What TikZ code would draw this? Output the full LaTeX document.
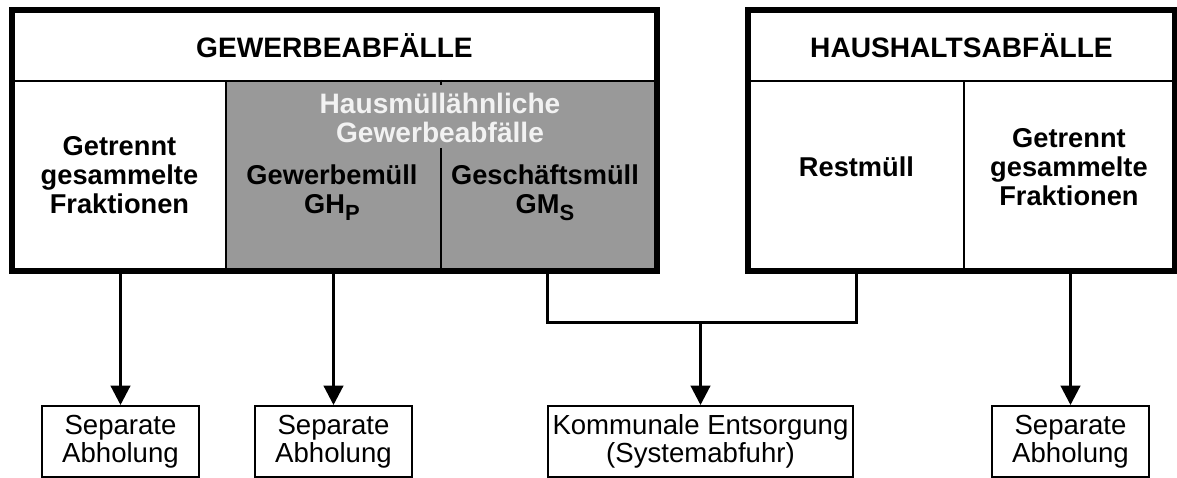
\documentclass[tikz,border=0pt]{standalone}
\usepackage{fontspec}
\setmainfont{Liberation Sans}
\usetikzlibrary{arrows.meta}
\newcommand{\tief}[1]{\raisebox{-4pt}{\fontsize{12.5}{12.5}\selectfont #1}}
\tikzset{
  dick/.style={line width=3.4pt},
  duenn/.style={line width=1.1pt},
  zelle/.style={draw, line width=1.1pt, inner sep=0pt, anchor=north west},
  kopf/.style={font=\fontsize{16}{19}\selectfont\bfseries},
  fach/.style={align=center, font=\fontsize{15.5}{16.5}\selectfont\bfseries},
  ziel/.style={draw, line width=1.1pt, inner sep=0pt, align=center, minimum height=1.42cm, font=\fontsize{15.7}{16}\selectfont},
  leitung/.style={line width=1.7pt},
  pfeil/.style={line width=1.7pt, -{Triangle[length=11pt,width=11pt]}},
}

\begin{document}
\begin{tikzpicture}
    \useasboundingbox (0,0) rectangle (23.54,9.56);
    \node[zelle, kopf, minimum width=12.86cm, minimum height=1.40cm] (gkopf) at (0.24,9.36) {GEWERBEABFÄLLE};
    \node[zelle, fach, minimum width=4.26cm, minimum height=3.78cm] (gtrenn) at (0.24,7.96) {Getrennt\\gesammelte\\Fraktionen};
    \node[zelle, fill=black!40, minimum width=8.60cm, minimum height=3.78cm] (grau) at (4.50,7.96) {};
    \node[inner sep=0pt, anchor=north west, minimum width=4.30cm, minimum height=2.42cm] (gmuell) at (4.50,6.60) {};
    \node[inner sep=0pt, anchor=north west, minimum width=4.30cm, minimum height=2.42cm] (gesch) at (8.80,6.60) {};
    \draw[duenn] (gmuell.north east) -- (gmuell.south east);
    \draw[duenn] (gmuell.east |- grau.north) -- ++(0,-0.1);
    \node[fach, text=black!5, font=\fontsize{16}{16.5}\selectfont\bfseries] (haus) at (8.80,7.20) {Hausmüllähnliche\\Gewerbeabfälle};
    \node[fach] (gmuelltxt) at (6.64,5.70) {Gewerbemüll\\GH\tief{P}};
    \node[fach] (geschtxt) at (10.90,5.70) {Geschäftsmüll\\GM\tief{S}};
    \draw[dick] (gkopf.north west) rectangle (grau.south east);

    \node[zelle, kopf, minimum width=8.50cm, minimum height=1.40cm] (hkopf) at (14.96,9.36) {HAUSHALTSABFÄLLE};
    \node[zelle, minimum width=4.30cm, minimum height=3.78cm] (restm) at (14.96,7.96) {};
    \node[zelle, minimum width=4.20cm, minimum height=3.78cm] (htrenn) at (19.26,7.96) {};
    \node[fach] (restmtxt) at ([yshift=0.17cm]restm.center) {Restmüll};
    \node[fach] (htrenntxt) at ([yshift=0.17cm]htrenn.center) {Getrennt\\gesammelte\\Fraktionen};
    \draw[dick] (hkopf.north west) rectangle (htrenn.south east);

    \node[ziel, minimum width=3.14cm] (sep1) at (2.41,0.73) {Separate\\Abholung};
    \node[ziel, minimum width=3.14cm] (sep2) at (6.67,0.73) {Separate\\Abholung};
    \node[ziel, minimum width=6.10cm] (kommunal) at (14.01,0.73) {Kommunale Entsorgung\\(Systemabfuhr)};
    \node[ziel, minimum width=3.14cm] (sep4) at (21.41,0.73) {Separate\\Abholung};

    \coordinate (knoten) at (kommunal.north |- 0,3.10);
    \draw[pfeil] (sep1.north |- gtrenn.south) -- (sep1.north);
    \draw[pfeil] (sep2.north |- gmuell.south) -- (sep2.north);
    \draw[leitung] (gesch.south) -- (gesch.south |- knoten) -- (restm.south |- knoten) -- (restm.south);
    \draw[pfeil] (knoten) -- (kommunal.north);
    \draw[pfeil] (sep4.north |- htrenn.south) -- (sep4.north);
\end{tikzpicture}
\end{document}
